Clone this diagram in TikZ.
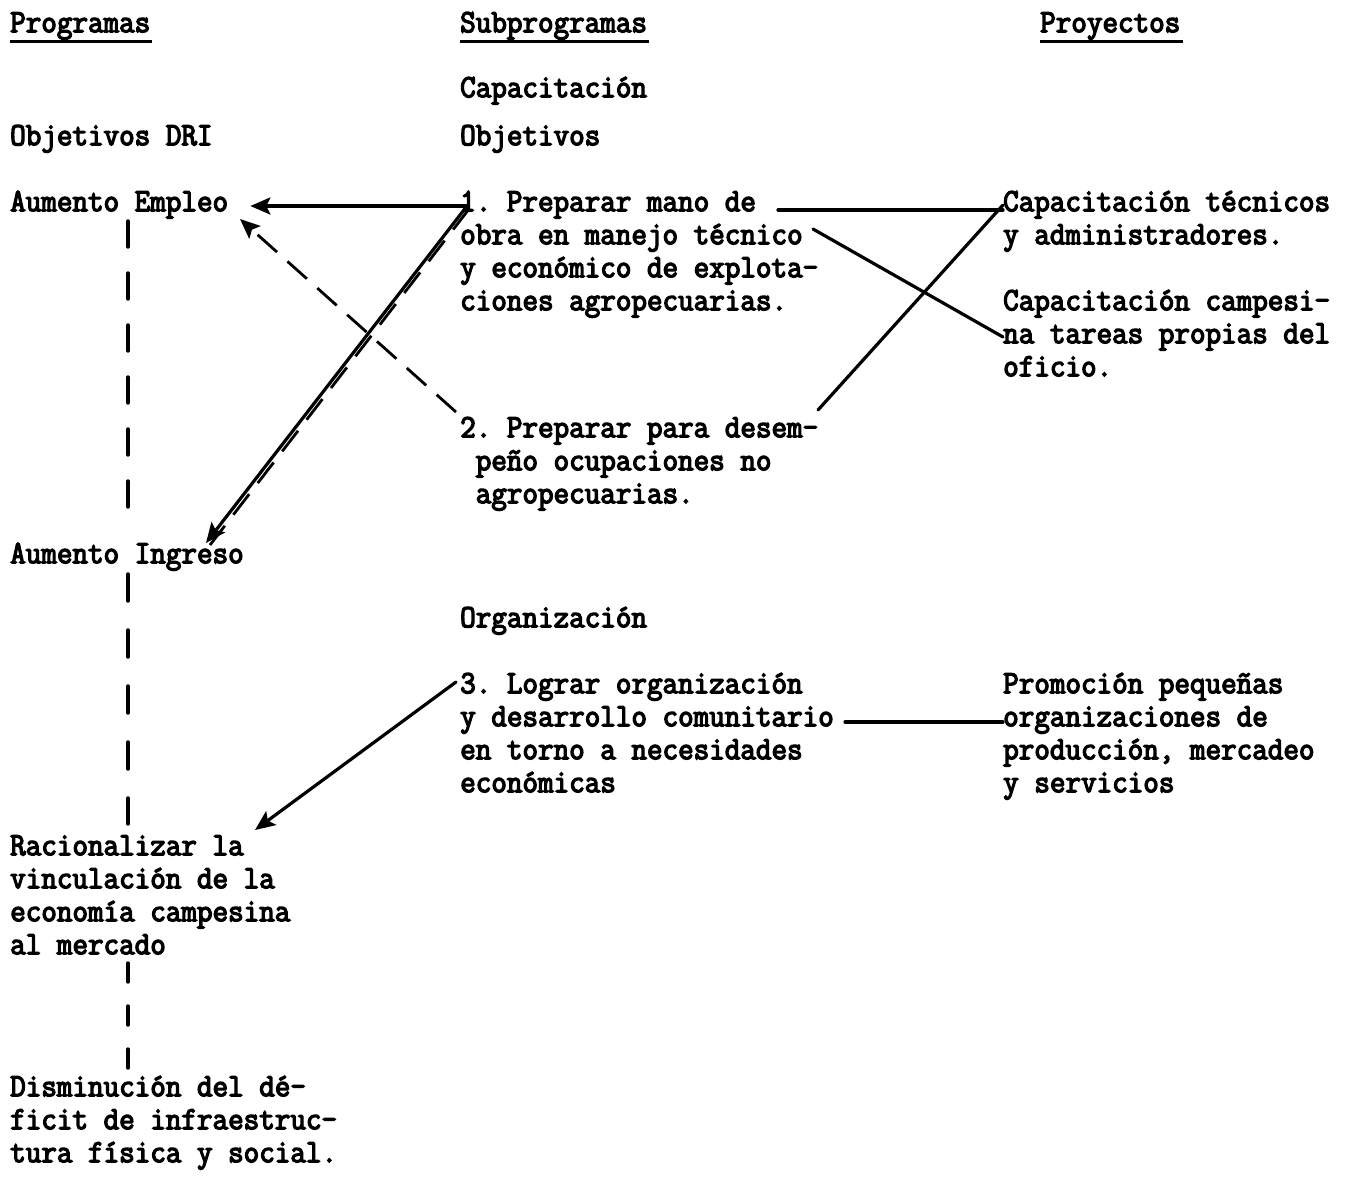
\documentclass[tikz,border=0pt]{standalone}
\usepackage{fontspec}
\setmonofont[FakeBold=4,FakeStretch=0.93]{Latin Modern Mono}
\usetikzlibrary{arrows.meta}

% invisible strut fixing the height of each block's first line
\newcommand\tstrut{\rule{0pt}{23pt}}

\tikzset{
  txt/.style={anchor=north west, inner sep=0pt, align=left,
    font=\ttfamily\fontsize{32.5}{33}\selectfont},
  uline/.style={line width=3pt},
  link/.style={line width=3.2pt, line cap=round},
  arr/.style={link, -{Stealth[length=20pt,width=17pt,inset=4pt]}},
  dlink/.style={line width=2.8pt, dash pattern=on 26pt off 14pt},
  darr/.style={dlink, -{Stealth[length=20pt,width=17pt,inset=4pt]}},
  vdash/.style={line width=3.4pt, line cap=round}
}

\begin{document}
\begin{tikzpicture}[x=1pt, y=-1pt]
\fill[white] (0,0) rectangle (1355,1179);
\useasboundingbox (0,0) rectangle (1355,1179);

% column headings
\node[txt] (prog) at (10,9)   {\tstrut Programas};
\node[txt] (subp) at (460,9)  {\tstrut Subprogramas};
\node[txt] (proy) at (1040,9) {\tstrut Proyectos};
\foreach \h in {prog,subp,proy}
  \draw[uline] ([shift={(0,32)}]\h.north west) -- ([shift={(2,32)}]\h.north east);

% programas
\node[txt] (objdri)  at (10,122)  {\tstrut Objetivos DRI};
\node[txt] (empleo)  at (10,188)  {\tstrut Aumento Empleo};
\node[txt] (ingreso) at (10,540)  {\tstrut Aumento Ingreso};
\node[txt] (racion)  at (10,832)  {\tstrut Racionalizar la\\vinculación de la\\economía campesina\\al mercado};
\node[txt] (dismin)  at (10,1073) {\tstrut Disminución del dé-\\ficit de infraestruc-\\tura física y social.};

% subprogramas
\node[txt] (capac)   at (460,74)  {\tstrut Capacitación};
\node[txt] (objs)    at (460,122) {\tstrut Objetivos};
\node[txt] (obj1)    at (460,188) {\tstrut 1. Preparar mano de\\obra en manejo técnico\\y económico de explota-\\ciones agropecuarias.};
\node[txt] (obj2)    at (460,414) {\tstrut 2. Preparar para desem-\\~peño ocupaciones no\\~agropecuarias.};
\node[txt] (organiz) at (460,604) {\tstrut Organización};
\node[txt] (obj3)    at (460,670) {\tstrut 3. Lograr organización\\y desarrollo comunitario\\en torno a necesidades\\económicas};

% proyectos
\node[txt] (cat)  at (1003,188) {\tstrut Capacitación técnicos\\y administradores.};
\node[txt] (cac)  at (1003,287) {\tstrut Capacitación campesi-\\na tareas propias del\\oficio.};
\node[txt] (prom) at (1003,670) {\tstrut Promoción pequeñas\\organizaciones de\\producción, mercadeo\\y servicios};

% chain of DRI objectives
\draw[vdash, dash pattern=on 26pt off 26pt]
  ([shift={(118,33)}]empleo.north west) -- ([shift={(118,-28)}]ingreso.north west);
\draw[vdash, dash pattern=on 27pt off 29pt]
  ([shift={(118,34)}]ingreso.north west) -- ([shift={(118,-8)}]racion.north west);
\draw[vdash, dash pattern=on 19pt off 24pt]
  ([shift={(118,131)}]racion.north west) -- ([shift={(118,-5)}]dismin.north west);

% objectives to programmes
\draw[arr]  ([shift={(6,18)}]obj1.north west) -- ([shift={(22,18)}]empleo.north east);
\draw[arr]  ([shift={(7,18)}]obj1.north west) -- ([shift={(196,3)}]ingreso.north west);
\draw[dlink] ([shift={(9,21)}]obj1.north west) -- ([shift={(200,5)}]ingreso.north west);
\draw[darr] ([shift={(-4,-2)}]obj2.north west) -- ([shift={(230,31)}]empleo.north west);
\draw[arr]  ([shift={(-4,12)}]obj3.north west) -- ([shift={(245,-2)}]racion.north west);

% objectives to projects
\draw[link] ([shift={(318,22)}]obj1.north west) -- ([shift={(0,22)}]cat.north west);
\draw[link] ([shift={(353,41)}]obj1.north west) -- ([shift={(0,50)}]cac.north west);
\draw[link] ([shift={(358,-4)}]obj2.north west) -- ([shift={(0,17)}]cat.north west);
\draw[link] ([shift={(385,52)}]obj3.north west) -- ([shift={(0,52)}]prom.north west);
\end{tikzpicture}
\end{document}
